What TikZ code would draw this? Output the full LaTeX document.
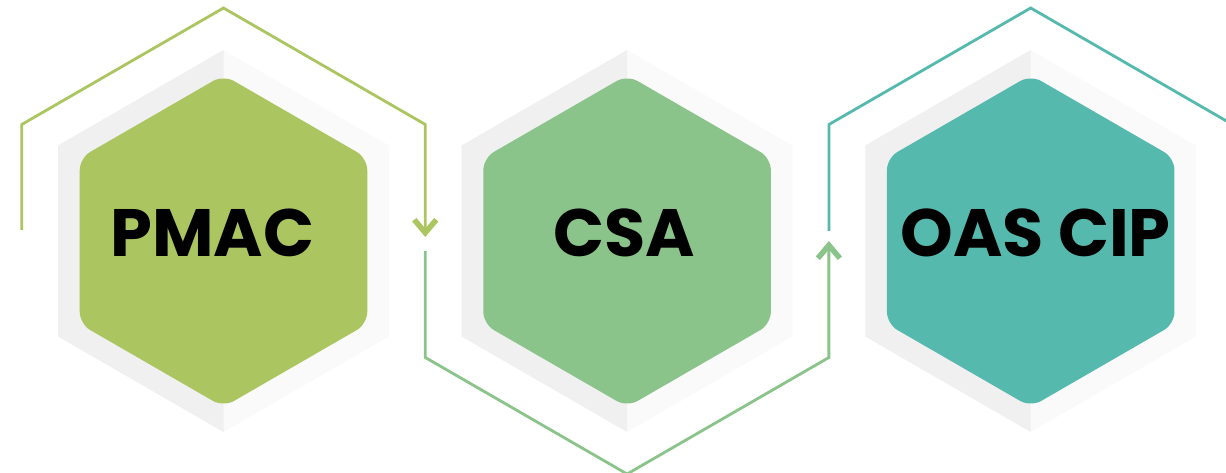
\documentclass[tikz,border=0pt]{standalone}
\usepackage{fontspec}
\setmainfont{Poppins}
\usepackage{tikz}
\usetikzlibrary{arrows.meta}

\definecolor{hexA}{HTML}{ABC560}
\definecolor{hexB}{HTML}{8AC48A}
\definecolor{hexC}{HTML}{55B9AE}
\definecolor{shadeL}{HTML}{F0F0F0}
\definecolor{shadeR}{HTML}{FAFAFA}

\tikzset{
	flow/.style={line width=2.8pt, line join=miter},
	chevron/.style={-{Straight Barb[length=13pt, width=22pt, line width=5.5pt, sharp]}},
	hexlabel/.style={anchor=base, inner sep=0pt, text=black, font=\bfseries\fontsize{67}{67}\selectfont}
}

\begin{document}
\begin{tikzpicture}[x=1pt, y=1pt]
		{
			\def\rout{191}
			\def\rin{166}
			\def\rline{233}
			\def\cy{232}
			\def\off{403.6}
			\useasboundingbox (0pt,0pt) rectangle (1226pt,473pt);
			\foreach \o/\col/\tx/\name/\txt in {0/hexA/-11/pmac/PMAC, 1/hexB/-3/csa/CSA, 2/hexC/5/oas/OAS CIP}
			{
				\coordinate (c\o) at (\off*\o+223.5, \cy);

				\fill[shadeR, shift={(c\o)}] (90:\rout) -- (150:\rout) -- (210:\rout) -- (270:\rout) -- (330:\rout) -- (30:\rout) -- cycle;
				\fill[shadeL, shift={(c\o)}] (90:\rout) -- (150:\rout) -- (210:\rout) -- (270:\rout) -- cycle;
				\fill[\col, rounded corners=12pt, shift={(c\o)}] (90:\rin) -- (150:\rin) -- (210:\rin) -- (270:\rin) -- (330:\rin) -- (30:\rin) -- cycle;

				\path[shift={(c\o)}] (90:\rline) coordinate (t\o) (150:\rline) coordinate (ul\o)
					(210:\rline) coordinate (ll\o) (270:\rline) coordinate (b\o)
					(330:\rline) coordinate (lr\o) (30:\rline) coordinate (ur\o);

				\node[hexlabel] (\name) at (\off*\o+223.5+\tx, 216) {\txt};
			}
			\coordinate[yshift=11pt] (startA) at (ul0 |- c0);
			\coordinate[yshift=4pt] (tipA) at (ur0 |- c0);
			\coordinate[yshift=-10pt] (startB) at (ll1 |- c1);
			\coordinate (tipB) at (lr1 |- c1);
			\coordinate[yshift=10pt] (startC) at (ul2 |- c2);

			\draw[flow, hexA, chevron] (startA) -- (ul0) -- (t0) -- (ur0) -- (tipA);
			\draw[flow, hexB, chevron] (startB) -- (ll1) -- (b1) -- (lr1) -- (tipB);
			\draw[flow, hexC] (startC) -- (ul2) -- (t2) -- (ur2);
		}
	\end{tikzpicture}
\end{document}
